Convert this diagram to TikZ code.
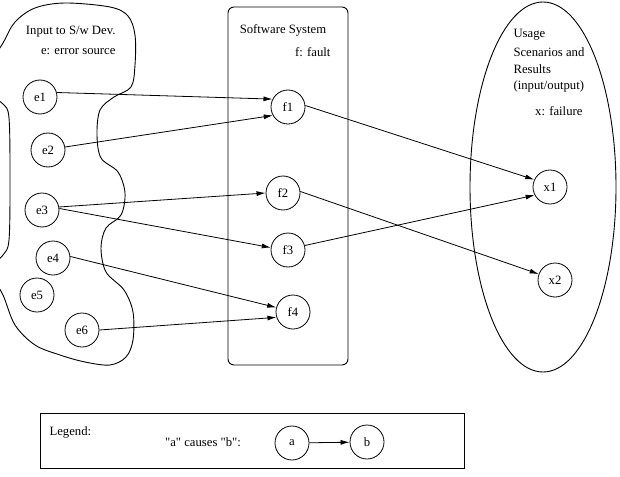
\documentclass[tikz,border=0pt]{standalone}
\usepackage{fontspec}
\setmainfont{Liberation Serif}
\usetikzlibrary{arrows.meta}
\begin{document}
\begin{tikzpicture}[x=1pt,y=-1pt,
  every node/.style={font=\fontsize{12.7}{15}\selectfont},
  ev/.style={circle,draw,line width=0.8pt,minimum size=34pt,inner sep=0pt},
  cause/.style={line width=0.8pt,-{Latex[length=9pt,width=5pt]}},
  outline/.style={line width=0.9pt}]
\useasboundingbox (0,0) rectangle (620,476);
% left blob
\begin{scope}
\clip (0,0) rectangle (620,476);
\draw[outline] plot[smooth cycle,tension=0.55] coordinates {
 (-14,72) (3,43) (15,22) (35,8) (65,3) (110,7) (128,16) (135,35) (135,65) (131,87)
 (114,97) (100,110) (97,135) (101,158) (118,172) (125,193) (121,215) (106,228)
 (101,248) (106,272) (124,290) (133,312) (133,340) (126,357) (110,365) (85,362)
 (60,355) (35,345) (15,325) (3,295) (-10,270) (3,255) (9,240) (10,180) (9,118) (3,104) (-12,92)};
\end{scope}
\node[anchor=east] (tin) at (119,32) {Input to S/w Dev.};
\node[anchor=east] (tes) at (119,52) {e: error source};
% software system
\draw[outline,rounded corners=6pt] (228,7) rectangle (348,365);
\node (tsw) at (283,30) {Software System};
\node[anchor=east] (tff) at (334,52) {f: fault};
% usage ellipse
\draw[outline] (543,187) ellipse [x radius=73, y radius=185];
\node[anchor=west] (tu1) at (510,35) {Usage};
\node[anchor=west] (tu2) at (510,52) {Scenarios and};
\node[anchor=west] (tu3) at (510,69) {Results};
\node[anchor=west] (tu4) at (510,86) {(input/output)};
\node[anchor=east] (txf) at (586,111) {x: failure};
% nodes
\node[ev] (e1) at (40,97) {e1};
\node[ev] (e2) at (48,150) {e2};
\node[ev] (e3) at (42,210) {e3};
\node[ev] (e4) at (53,258) {e4};
\node[ev] (e5) at (37,295) {e5};
\node[ev] (e6) at (82,330) {e6};
\node[ev] (f1) at (288,107) {f1};
\node[ev] (f2) at (283,193) {f2};
\node[ev] (f3) at (288,250) {f3};
\node[ev] (f4) at (293,312) {f4};
\node[ev] (x1) at (550,187) {x1};
\node[ev] (x2) at (555,280) {x2};
% connectors
\draw[cause] (e1.15) -- (f1.153);
\draw[cause] (e2.10) -- (f1.209);
\draw[cause] (e3.10) -- (f2.180);
\draw[cause] (e3.5) -- (f3.172);
\draw[cause] (e4.5) -- (f4.165);
\draw[cause] (e6.east) -- (f4.198);
\draw[cause] (f1.5) -- (x1.155);
\draw[cause] (f3.15) -- (x1.208);
\draw[cause] (f2.5) -- (x2.160);
% legend
\draw[line width=0.9pt] (40,413) rectangle (464,468);
\node[anchor=west] (tlg) at (46,432) {Legend:};
\node (tcs) at (203,442) {\textquotedbl a\textquotedbl\ causes \textquotedbl b\textquotedbl:};
\node[ev] (la) at (292,443) {a};
\node[ev] (lb) at (367,442) {b};
\draw[cause] (la) -- (lb);
\end{tikzpicture}
\end{document}
